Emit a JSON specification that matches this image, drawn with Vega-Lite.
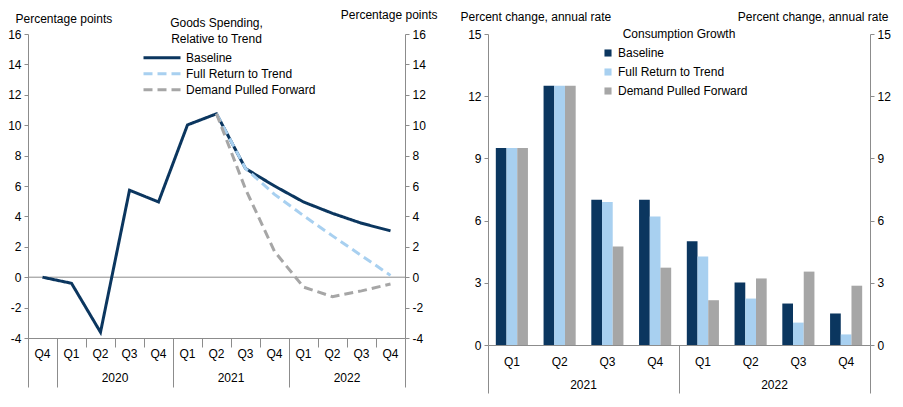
{
  "$schema": "https://vega.github.io/schema/vega-lite/v6.json",
  "padding": {"left": 7, "top": 8, "right": 8, "bottom": 0},
  "spacing": 23,
  "resolve": {"scale": {"color": "independent"}, "legend": {"color": "independent"}},
  "config": {
    "font": "Liberation Sans",
    "view": {"stroke": null},
    "title": {"font": "Liberation Sans", "fontSize": 12, "fontWeight": "normal", "color": "#000000", "lineHeight": 16, "anchor": "middle"},
    "axis": {
      "grid": false,
      "labelFont": "Liberation Sans",
      "labelFontSize": 12,
      "labelColor": "#000000",
      "titleFont": "Liberation Sans",
      "titleFontSize": 12,
      "titleFontWeight": "normal",
      "titleColor": "#000000",
      "domainColor": "#8c8c8c",
      "tickColor": "#8c8c8c"
    },
    "legend": {
      "labelFont": "Liberation Sans",
      "labelFontSize": 12,
      "labelColor": "#000000"
    }
  },
  "hconcat": [
    {
      "width": 377,
      "height": 304,
      "title": {"text": ["Goods Spending,", "Relative to Trend"], "offset": -38},
      "data": {
        "values": [
          {"period": "2019 Q4", "series": "Baseline", "value": 0},
          {"period": "2020 Q1", "series": "Baseline", "value": -0.4},
          {"period": "2020 Q2", "series": "Baseline", "value": -3.62},
          {"period": "2020 Q3", "series": "Baseline", "value": 5.72},
          {"period": "2020 Q4", "series": "Baseline", "value": 4.95},
          {"period": "2021 Q1", "series": "Baseline", "value": 10.02},
          {"period": "2021 Q2", "series": "Baseline", "value": 10.75},
          {"period": "2021 Q3", "series": "Baseline", "value": 7.15},
          {"period": "2021 Q4", "series": "Baseline", "value": 6.0},
          {"period": "2022 Q1", "series": "Baseline", "value": 4.95},
          {"period": "2022 Q2", "series": "Baseline", "value": 4.2},
          {"period": "2022 Q3", "series": "Baseline", "value": 3.55},
          {"period": "2022 Q4", "series": "Baseline", "value": 3.05},
          {"period": "2021 Q2", "series": "Full Return to Trend", "value": 10.75},
          {"period": "2021 Q3", "series": "Full Return to Trend", "value": 7.15},
          {"period": "2021 Q4", "series": "Full Return to Trend", "value": 5.45},
          {"period": "2022 Q1", "series": "Full Return to Trend", "value": 4.05},
          {"period": "2022 Q2", "series": "Full Return to Trend", "value": 2.72},
          {"period": "2022 Q3", "series": "Full Return to Trend", "value": 1.42},
          {"period": "2022 Q4", "series": "Full Return to Trend", "value": 0.12},
          {"period": "2021 Q2", "series": "Demand Pulled Forward", "value": 10.75},
          {"period": "2021 Q3", "series": "Demand Pulled Forward", "value": 5.8},
          {"period": "2021 Q4", "series": "Demand Pulled Forward", "value": 1.7},
          {"period": "2022 Q1", "series": "Demand Pulled Forward", "value": -0.65},
          {"period": "2022 Q2", "series": "Demand Pulled Forward", "value": -1.28},
          {"period": "2022 Q3", "series": "Demand Pulled Forward", "value": -0.9},
          {"period": "2022 Q4", "series": "Demand Pulled Forward", "value": -0.45}
        ]
      },
      "layer": [
        {
          "data": {"values": [{"level": 0}]},
          "mark": {"type": "rule", "color": "#8c8c8c", "strokeWidth": 1},
          "encoding": {
            "y": {"field": "level", "type": "quantitative", "axis": null}
          }
        },
        {
          "transform": [{"filter": "datum.series == 'Baseline'"}],
          "mark": {"type": "line", "strokeWidth": 3},
          "encoding": {
            "x": {
              "field": "period",
              "type": "ordinal",
              "sort": null,
              "scale": {
                "type": "band",
                "paddingInner": 0,
                "paddingOuter": 0,
                "domain": ["2019 Q4", "2020 Q1", "2020 Q2", "2020 Q3", "2020 Q4", "2021 Q1", "2021 Q2", "2021 Q3", "2021 Q4", "2022 Q1", "2022 Q2", "2022 Q3", "2022 Q4"]
              },
              "axis": {
                "orient": "bottom",
                "title": null,
                "bandPosition": 0,
                "labelAngle": 0,
                "labelPadding": 1,
                "labelExpr": "substring(datum.value, 5)",
                "tickSize": 9
              }
            },
            "y": {
              "field": "value",
              "type": "quantitative",
              "scale": {"domain": [-4, 16], "nice": false},
              "axis": {
                "orient": "left",
                "values": [-4, -2, 0, 2, 4, 6, 8, 10, 12, 14, 16],
                "labelExpr": "datum.value < 0 ? '-' + abs(datum.value) : '' + datum.value",
                "tickSize": 4,
                "labelPadding": 3,
                "title": "Percentage points",
                "titleAngle": 0,
                "titleAlign": "left",
                "titleBaseline": "middle",
                "titleX": -13,
                "titleY": -16
              }
            },
            "color": {
              "field": "series",
              "type": "nominal",
              "scale": {
                "domain": ["Baseline", "Full Return to Trend", "Demand Pulled Forward"],
                "range": ["#0b365f", "#a8d0f0", "#a6a6a6"]
              },
              "legend": {
                "orient": "none",
                "legendX": 114,
                "legendY": 16,
                "title": null,
                "symbolType": "stroke",
                "symbolSize": 1369,
                "symbolStrokeWidth": 3,
                "clipHeight": 15.5,
                "rowPadding": 0,
                "encode": {
                  "symbols": {
                    "update": {
                      "strokeDash": {"signal": "datum.value == 'Baseline' ? [1, 0] : [9, 5]"}
                    }
                  }
                }
              }
            },
            "strokeDash": {
              "field": "series",
              "type": "nominal",
              "scale": {
                "domain": ["Baseline", "Full Return to Trend", "Demand Pulled Forward"],
                "range": [[1, 0], [9, 5], [9, 5]]
              },
              "legend": null
            }
          }
        },
        {
          "transform": [{"filter": "datum.series == 'Full Return to Trend'"}],
          "mark": {"type": "line", "strokeWidth": 3},
          "encoding": {
            "x": {
              "field": "period",
              "type": "ordinal",
              "sort": null,
              "axis": {
                "orient": "bottom",
                "title": null,
                "bandPosition": 0,
                "values": ["2019 Q4", "2020 Q1", "2021 Q1", "2022 Q1"],
                "labelAngle": 0,
                "labelOffset": 43.5,
                "labelPadding": -15,
                "labelExpr": "datum.value == '2019 Q4' ? '' : substring(datum.value, 0, 4)",
                "tickSize": 49,
                "domain": false
              }
            },
            "y": {
              "field": "value",
              "type": "quantitative",
              "axis": {
                "orient": "right",
                "values": [-4, -2, 0, 2, 4, 6, 8, 10, 12, 14, 16],
                "labelExpr": "datum.value < 0 ? '-' + abs(datum.value) : '' + datum.value",
                "tickSize": 4,
                "labelPadding": 3,
                "title": "Percentage points",
                "titleAngle": 0,
                "titleAlign": "right",
                "titleBaseline": "middle",
                "titleX": 32,
                "titleY": -20
              }
            },
            "color": {"field": "series", "type": "nominal", "legend": null},
            "strokeDash": {"field": "series", "type": "nominal", "legend": null}
          }
        },
        {
          "transform": [{"filter": "datum.series == 'Demand Pulled Forward'"}],
          "mark": {"type": "line", "strokeWidth": 3},
          "encoding": {
            "x": {
              "field": "period",
              "type": "ordinal",
              "sort": null,
              "axis": {
                "orient": "bottom",
                "title": null,
                "bandPosition": 1,
                "values": ["2022 Q4"],
                "labels": false,
                "tickSize": 49,
                "domain": false
              }
            },
            "y": {"field": "value", "type": "quantitative", "axis": null},
            "color": {"field": "series", "type": "nominal", "legend": null},
            "strokeDash": {"field": "series", "type": "nominal", "legend": null}
          }
        }
      ],
      "resolve": {"axis": {"x": "independent", "y": "independent"}}
    },
    {
      "width": 382,
      "height": 311,
      "title": {"text": "Consumption Growth", "offset": -31},
      "data": {
        "values": [
          {"period": "2021 Q1", "series": "Baseline", "value": 9.5},
          {"period": "2021 Q1", "series": "Full Return to Trend", "value": 9.5},
          {"period": "2021 Q1", "series": "Demand Pulled Forward", "value": 9.5},
          {"period": "2021 Q2", "series": "Baseline", "value": 12.5},
          {"period": "2021 Q2", "series": "Full Return to Trend", "value": 12.5},
          {"period": "2021 Q2", "series": "Demand Pulled Forward", "value": 12.5},
          {"period": "2021 Q3", "series": "Baseline", "value": 7.0},
          {"period": "2021 Q3", "series": "Full Return to Trend", "value": 6.9},
          {"period": "2021 Q3", "series": "Demand Pulled Forward", "value": 4.75},
          {"period": "2021 Q4", "series": "Baseline", "value": 7.0},
          {"period": "2021 Q4", "series": "Full Return to Trend", "value": 6.2},
          {"period": "2021 Q4", "series": "Demand Pulled Forward", "value": 3.73},
          {"period": "2022 Q1", "series": "Baseline", "value": 5.0},
          {"period": "2022 Q1", "series": "Full Return to Trend", "value": 4.27},
          {"period": "2022 Q1", "series": "Demand Pulled Forward", "value": 2.16},
          {"period": "2022 Q2", "series": "Baseline", "value": 3.02},
          {"period": "2022 Q2", "series": "Full Return to Trend", "value": 2.24},
          {"period": "2022 Q2", "series": "Demand Pulled Forward", "value": 3.21},
          {"period": "2022 Q3", "series": "Baseline", "value": 2.0},
          {"period": "2022 Q3", "series": "Full Return to Trend", "value": 1.08},
          {"period": "2022 Q3", "series": "Demand Pulled Forward", "value": 3.54},
          {"period": "2022 Q4", "series": "Baseline", "value": 1.52},
          {"period": "2022 Q4", "series": "Full Return to Trend", "value": 0.51},
          {"period": "2022 Q4", "series": "Demand Pulled Forward", "value": 2.86}
        ]
      },
      "layer": [
        {
          "transform": [{"filter": "datum.series == 'Baseline'"}],
          "mark": {"type": "bar"},
          "encoding": {
            "x": {
              "field": "period",
              "type": "ordinal",
              "sort": null,
              "scale": {
                "type": "band",
                "paddingInner": 0,
                "paddingOuter": 0,
                "domain": ["2021 Q1", "2021 Q2", "2021 Q3", "2021 Q4", "2022 Q1", "2022 Q2", "2022 Q3", "2022 Q4"]
              },
              "axis": {
                "orient": "bottom",
                "title": null,
                "ticks": false,
                "labelAngle": 0,
                "labelPadding": 11,
                "labelExpr": "substring(datum.value, 5)"
              }
            },
            "xOffset": {
              "field": "series",
              "type": "nominal",
              "scale": {
                "domain": ["Baseline", "Full Return to Trend", "Demand Pulled Forward"],
                "paddingInner": 0,
                "paddingOuter": 0.73
              }
            },
            "y": {
              "field": "value",
              "type": "quantitative",
              "scale": {"domain": [0, 15], "nice": false},
              "axis": {
                "orient": "left",
                "values": [0, 3, 6, 9, 12, 15],
                "tickSize": 4,
                "labelPadding": 3,
                "title": "Percent change, annual rate",
                "titleAngle": 0,
                "titleAlign": "left",
                "titleBaseline": "middle",
                "titleX": -28,
                "titleY": -18
              }
            },
            "color": {
              "field": "series",
              "type": "nominal",
              "scale": {
                "domain": ["Baseline", "Full Return to Trend", "Demand Pulled Forward"],
                "range": ["#0b365f", "#a8d0f0", "#a6a6a6"]
              },
              "legend": {
                "orient": "none",
                "legendX": 114,
                "legendY": 13,
                "title": null,
                "symbolType": "square",
                "symbolSize": 50,
                "symbolStrokeWidth": 0,
                "labelOffset": 4,
                "rowPadding": 7
              }
            }
          }
        },
        {
          "transform": [{"filter": "datum.series == 'Full Return to Trend'"}],
          "mark": {"type": "bar"},
          "encoding": {
            "x": {
              "field": "period",
              "type": "ordinal",
              "sort": null,
              "axis": {
                "orient": "bottom",
                "title": null,
                "bandPosition": 0,
                "values": ["2021 Q1", "2022 Q1"],
                "labelAngle": 0,
                "labelOffset": 71.625,
                "labelPadding": -14,
                "labelExpr": "substring(datum.value, 0, 4)",
                "tickSize": 48,
                "domain": false
              }
            },
            "xOffset": {"field": "series", "type": "nominal"},
            "y": {
              "field": "value",
              "type": "quantitative",
              "axis": {
                "orient": "right",
                "values": [0, 3, 6, 9, 12, 15],
                "tickSize": 4,
                "labelPadding": 3,
                "title": "Percent change, annual rate",
                "titleAngle": 0,
                "titleAlign": "right",
                "titleBaseline": "middle",
                "titleX": 18,
                "titleY": -18
              }
            },
            "color": {"field": "series", "type": "nominal", "legend": null}
          }
        },
        {
          "transform": [{"filter": "datum.series == 'Demand Pulled Forward'"}],
          "mark": {"type": "bar"},
          "encoding": {
            "x": {
              "field": "period",
              "type": "ordinal",
              "sort": null,
              "axis": {
                "orient": "bottom",
                "title": null,
                "bandPosition": 1,
                "values": ["2022 Q4"],
                "labels": false,
                "tickSize": 48,
                "domain": false
              }
            },
            "xOffset": {"field": "series", "type": "nominal"},
            "y": {"field": "value", "type": "quantitative", "axis": null},
            "color": {"field": "series", "type": "nominal", "legend": null}
          }
        }
      ],
      "resolve": {"axis": {"x": "independent", "y": "independent"}}
    }
  ]
}
